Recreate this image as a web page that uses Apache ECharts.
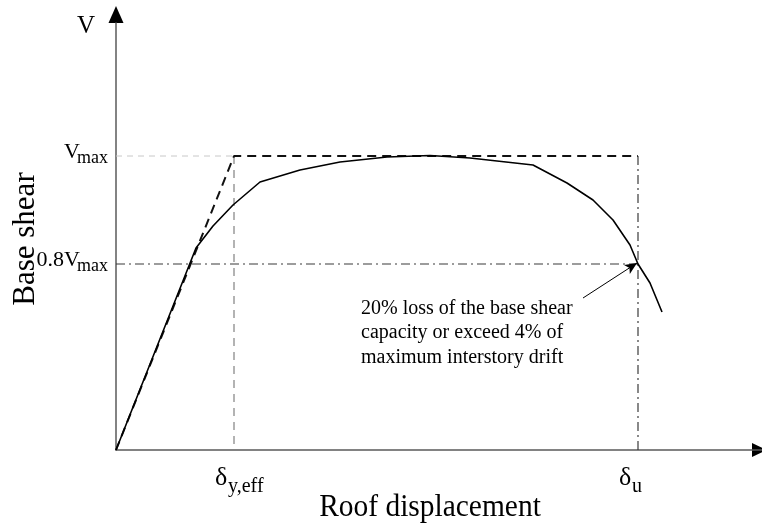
<!DOCTYPE html>
<html><head><meta charset="utf-8">
<script src="https://cdn.jsdelivr.net/npm/echarts@6/dist/echarts.min.js"></script>
<style>html,body{margin:0;padding:0;background:#fff}#c{width:762px;height:525px}</style>
</head><body><div id="c"></div>
<script>
// axis ranges (schematic units)
const xMax = 646, yMax = 444;
// characteristic points
const deltaY = 118, deltaU = 522;
const vMax = 294, v08 = 186;
// capacity curve
const curveX = [0, 80, 97, 117, 144, 184, 224, 271, 314, 354, 417, 451, 477, 497, 514, 522, 534, 546];
const curveY = [0, 202, 224, 245, 268, 280, 288, 293, 294.5, 292, 285, 267, 250, 230, 205, 186, 167, 138];
// idealized bilinear curve
const biX = [0, deltaY, deltaU];
const biY = [0, vMax, vMax];
// tick labels
const yTickVals = [vMax, v08];
const yTickMain = ['V', '0.8V'];
const yTickSub = ['max', 'max'];
const xTickVals = [deltaY, deltaU];
const xTickSub = ['y,eff', 'u'];
// annotation
const noteLines = ['20% loss of the base shear', 'capacity or exceed 4% of', 'maximum interstory drift'];
const arrowFrom = [467, 152];

const FONT = 'Liberation Serif';
const zip = (a, b) => a.map((v, i) => [v, b[i]]);
const chart = echarts.init(document.getElementById('c'));
const lineS = (data, color, width, type, z) => ({
  type: 'line', data, symbol: 'none', silent: true, animation: false, z: z || 2,
  lineStyle: { color, width, type }
});
chart.setOption({
  animation: false,
  grid: { left: 116, top: 23, width: 646, height: 427 },
  xAxis: { type: 'value', min: 0, max: xMax, splitLine: { show: false }, axisTick: { show: false }, axisLabel: { show: false },
    axisLine: { lineStyle: { color: '#5a5a5a', width: 1.5 } } },
  yAxis: { type: 'value', min: 0, max: yMax - 17, splitLine: { show: false }, axisTick: { show: false }, axisLabel: { show: false },
    axisLine: { lineStyle: { color: '#5a5a5a', width: 1.5 } } },
  series: [
    lineS([[0, vMax], [deltaY, vMax]], '#c8c8c8', 1, [6, 5]),
    lineS([[deltaY, vMax], [deltaY, 0]], '#8a8a8a', 1.3, [8, 6]),
    lineS([[0, v08], [deltaU, v08]], '#3a3a3a', 1.2, [9, 4, 2, 4]),
    lineS([[deltaU, vMax], [deltaU, 0]], '#3a3a3a', 1.2, [9, 4, 2, 4]),
    lineS(zip(biX, biY), '#111', 2, [9, 6], 3),
    Object.assign(lineS(zip(curveX, curveY), '#000', 1.6, 'solid', 4), {
      markLine: { silent: true, symbol: ['none', 'arrow'], symbolSize: [8, 12], label: { show: false },
        lineStyle: { color: '#000', width: 1, type: 'solid' },
        data: [[{ coord: arrowFrom }, { coord: [deltaU - 1, v08 + 1] }]] }
    })
  ]
});
const g = [];
const px = p => chart.convertToPixel({ gridIndex: 0 }, p);
// text placed by baseline: top = baseline - 0.72 * size
const txt = (x, base, text, size, align, extra) => g.push(Object.assign({
  type: 'text', x, y: base - 0.72 * size, style: { text, font: size + 'px "' + FONT + '"', fill: '#000', align: align, verticalAlign: 'top' }
}, extra || {}));
// axis arrows (solid triangles at the axis ends)
const yEnd = px([0, yMax - 17]);
g.push({ type: 'polygon', shape: { points: [[yEnd[0], yEnd[1] - 17], [yEnd[0] - 7.5, yEnd[1]], [yEnd[0] + 7.5, yEnd[1]]] }, style: { fill: '#000' } });
const xEnd = px([xMax, 0]);
g.push({ type: 'polygon', shape: { points: [[xEnd[0] - 10, xEnd[1] - 7], [xEnd[0] + 5, xEnd[1]], [xEnd[0] - 10, xEnd[1] + 7]] }, style: { fill: '#000' } });
// V axis name
txt(yEnd[0] - 30, 31.5, 'V', 25, 'center');
// y ticks
yTickVals.forEach((v, i) => {
  const p = px([0, v]);
  txt(p[0] - 36, p[1] + 1.5, yTickMain[i], 22, 'right');
  txt(p[0] - 8, p[1] + 6, yTickSub[i], 18, 'right');
});
// x ticks
xTickVals.forEach((v, i) => {
  const p = px([v, 0]);
  txt(p[0] - 19, p[1] + 34, 'δ', 26, 'left');
  txt(p[0] - 6, p[1] + 41, xTickSub[i], 20, 'left');
});
// axis titles
txt(430, 515, 'Roof displacement', 31, 'center', { scaleX: 0.95 });
g.push({ type: 'text', x: 10, y: 239, rotation: Math.PI / 2,
  style: { text: 'Base shear', font: '31px "' + FONT + '"', fill: '#000', align: 'center', verticalAlign: 'top' } });
// annotation
const a = px(arrowFrom);
noteLines.forEach((t, i) => txt(a[0] - 222, a[1] + 15 + i * 24.5, t, 20, 'left'));
chart.setOption({ graphic: g });
</script></body></html>
